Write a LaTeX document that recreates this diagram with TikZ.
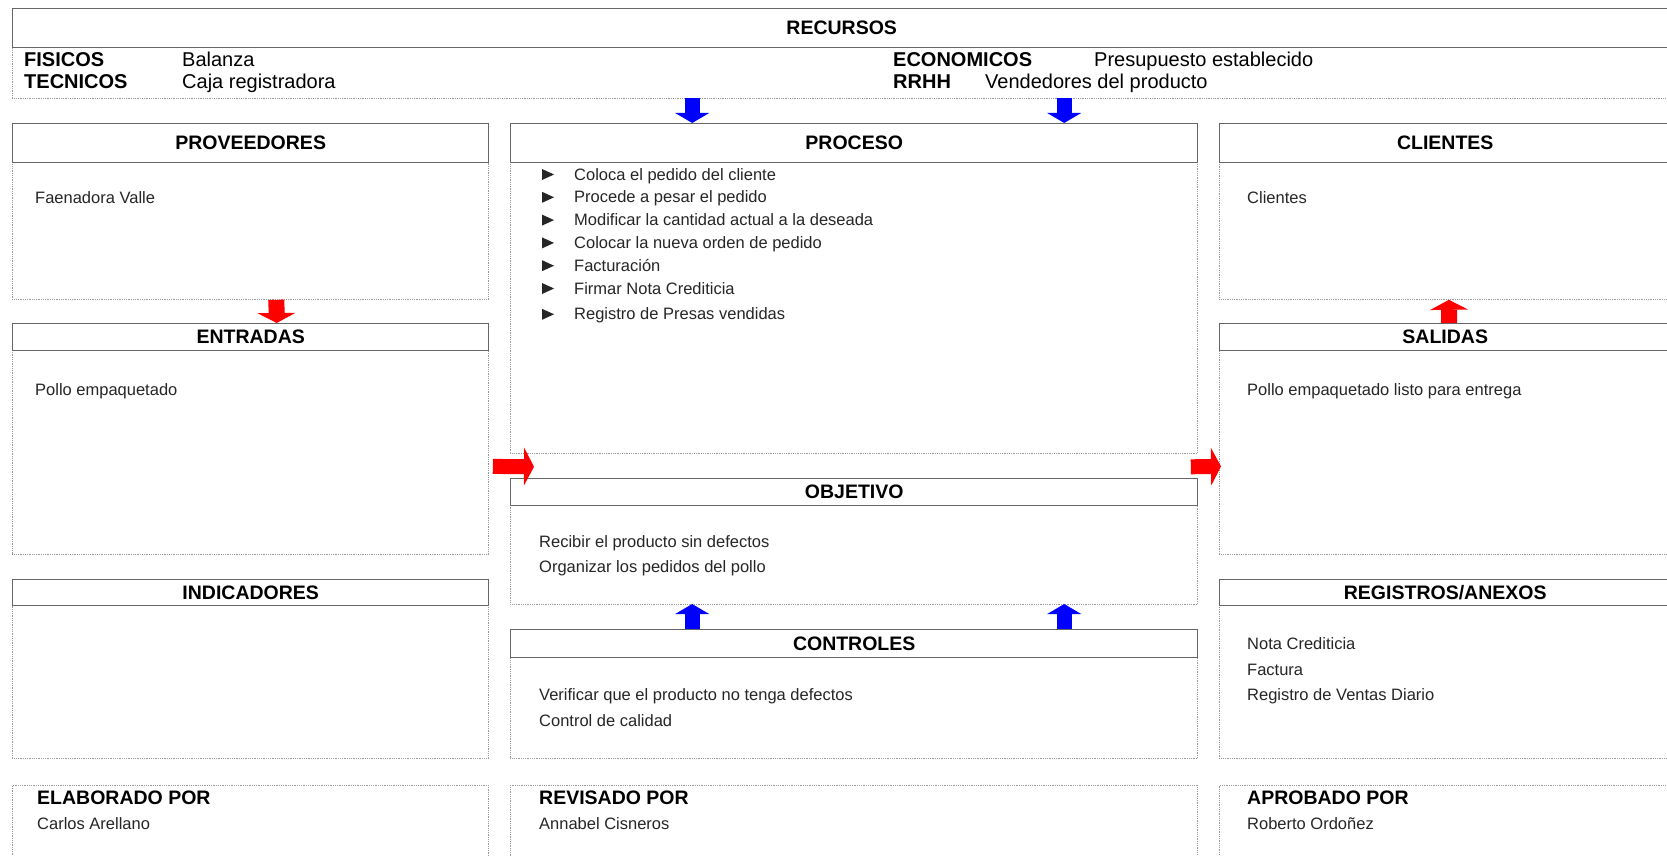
\documentclass[tikz,border=0pt]{standalone}
\usepackage{fontspec}
\setmainfont{Liberation Sans}
\usetikzlibrary{arrows.meta, calc}

\newcommand{\headfont}{\fontsize{19.5}{22}\selectfont\bfseries}
\newcommand{\bodyfont}{\fontsize{16.5}{19}\selectfont}
\newcommand{\recfont}{\fontsize{20}{23}\selectfont}

\tikzset{
  head/.style={draw=black!60, line width=1.4pt, fill=white, anchor=north west, inner sep=0pt, font=\headfont},
  body/.style={draw=black!40, densely dotted, line width=0.8pt, anchor=north west, inner sep=0pt},
  txt/.style={anchor=base west, inner sep=0pt, font=\bodyfont, text=black!85},
  rec/.style={anchor=base west, inner sep=0pt, font=\recfont},
  firma/.style={anchor=base west, inner sep=0pt, font=\headfont},
  bluearrow/.style={draw=blue, line width=15pt, -{Triangle[length=10pt, width=34pt, line width=0pt]}},
  redarrow/.style={draw=red, line width=16pt, -{Triangle[length=10pt, width=38pt, line width=0pt]}},
}

\begin{document}
\begin{tikzpicture}[x=1pt, y=1pt]
    \fill[white] (0,0) rectangle (1667,-856);
    \useasboundingbox (0,0) rectangle (1667,-856);

    % recursos
    \node[body, minimum width=1658pt, minimum height=51pt] (recbody) at (12,-47) {};
    \node[head, minimum width=1658pt, minimum height=39pt] (rechead) at (12,-8) {RECURSOS};
    \node[rec, font=\recfont\bfseries] (fis) at (24,-67) {FISICOS};
    \node[rec] (fisval) at (182,-67) {Balanza};
    \node[rec, font=\recfont\bfseries] (tec) at (24,-89) {TECNICOS};
    \node[rec] (tecval) at (182,-89) {Caja registradora};
    \node[rec, font=\recfont\bfseries] (eco) at (893,-67) {ECONOMICOS};
    \node[rec] (ecoval) at (1094,-67) {Presupuesto establecido};
    \node[rec, font=\recfont\bfseries] (rrhh) at (893,-89) {RRHH};
    \node[rec] (rrhhval) at (985,-89) {Vendedores del producto};

    % columna izquierda
    \node[body, minimum width=476pt, minimum height=137pt] (provbody) at (12,-162) {};
    \node[head, minimum width=476pt, minimum height=39pt] (prov) at (12,-123) {PROVEEDORES};
    \node[txt] (provtxt) at (35,-203) {Faenadora Valle};
    \node[body, minimum width=476pt, minimum height=204pt] (entbody) at (12,-350) {};
    \node[head, minimum width=476pt, minimum height=27pt] (ent) at (12,-323) {ENTRADAS};
    \node[txt] (enttxt) at (35,-395) {Pollo empaquetado};
    \node[body, minimum width=476pt, minimum height=153pt] (indbody) at (12,-605) {};
    \node[head, minimum width=476pt, minimum height=26pt] (ind) at (12,-579) {INDICADORES};

    % columna central
    \node[body, minimum width=687pt, minimum height=291pt] (procbody) at (510,-162) {};
    \node[head, minimum width=687pt, minimum height=39pt] (proc) at (510,-123) {PROCESO};
    \foreach \paso [count=\i] in {Coloca el pedido del cliente, Procede a pesar el pedido,
        Modificar la cantidad actual a la deseada, Colocar la nueva orden de pedido,
        Facturación, Firmar Nota Crediticia, Registro de Presas vendidas}{
      \node[txt] (paso\i) at (574,{-180-22.8*(\i-1)-3*(\i==7)}) {\paso};
      \fill[black!85] ($(paso\i.base west)+(-32,0)$) -- ++(0,11) -- ++(12,-5.5) -- cycle;
    }
    \node[body, minimum width=687pt, minimum height=99pt] (objbody) at (510,-505) {};
    \node[head, minimum width=687pt, minimum height=27pt] (obj) at (510,-478) {OBJETIVO};
    \node[txt] (obj1) at (539,-547) {Recibir el producto sin defectos};
    \node[txt] (obj2) at (539,-572) {Organizar los pedidos del pollo};
    \node[body, minimum width=687pt, minimum height=101pt] (ctlbody) at (510,-657) {};
    \node[head, minimum width=687pt, minimum height=28pt] (ctl) at (510,-629) {CONTROLES};
    \node[txt] (ctl1) at (539,-700) {Verificar que el producto no tenga defectos};
    \node[txt] (ctl2) at (539,-726) {Control de calidad};

    % columna derecha
    \node[body, minimum width=451pt, minimum height=137pt] (clibody) at (1219,-162) {};
    \node[head, minimum width=451pt, minimum height=39pt] (cli) at (1219,-123) {CLIENTES};
    \node[txt] (clitxt) at (1247,-203) {Clientes};
    \node[body, minimum width=451pt, minimum height=204pt] (salbody) at (1219,-350) {};
    \node[head, minimum width=451pt, minimum height=27pt] (sal) at (1219,-323) {SALIDAS};
    \node[txt] (saltxt) at (1247,-395) {Pollo empaquetado listo para entrega};
    \node[body, minimum width=451pt, minimum height=153pt] (regbody) at (1219,-605) {};
    \node[head, minimum width=451pt, minimum height=26pt] (reg) at (1219,-579) {REGISTROS/ANEXOS};
    \node[txt] (reg1) at (1247,-649) {Nota Crediticia};
    \node[txt] (reg2) at (1247,-675) {Factura};
    \node[txt] (reg3) at (1247,-700) {Registro de Ventas Diario};

    % firmas
    \node[body, minimum width=476pt, minimum height=95pt] (elab) at (12,-785) {};
    \node[firma] (elabtit) at (37,-804) {ELABORADO POR};
    \node[txt] (elabnom) at (37,-829) {Carlos Arellano};
    \node[body, minimum width=687pt, minimum height=95pt] (rev) at (510,-785) {};
    \node[firma] (revtit) at (539,-804) {REVISADO POR};
    \node[txt] (revnom) at (539,-829) {Annabel Cisneros};
    \node[body, minimum width=451pt, minimum height=95pt] (apr) at (1219,-785) {};
    \node[firma] (aprtit) at (1247,-804) {APROBADO POR};
    \node[txt] (aprnom) at (1247,-829) {Roberto Ordoñez};

    % flechas
    \draw[bluearrow] ($(proc.north)+(-162,25)$) -- ($(proc.north)+(-162,0)$);
    \draw[bluearrow] ($(proc.north)+(210,25)$) -- ($(proc.north)+(210,0)$);
    \draw[bluearrow] ($(ctl.north)+(-162,0)$) -- ($(ctl.north)+(-162,25)$);
    \draw[bluearrow] ($(ctl.north)+(210,0)$) -- ($(ctl.north)+(210,25)$);
    \draw[redarrow] ($(provbody.south)+(26,0)$) -- ($(ent.north)+(26,0)$);
    \draw[redarrow] ($(sal.north)+(4,0)$) -- ($(clibody.south)+(4,0)$);
    \draw[redarrow, line width=15pt] ($(entbody.east)+(4,-14)$) -- ($(procbody.south west)+(24,-13)$);
    \draw[redarrow, line width=15pt] ($(procbody.south east)+(-7,-13)$) -- ($(salbody.west)+(2,-14)$);
\end{tikzpicture}
\end{document}
